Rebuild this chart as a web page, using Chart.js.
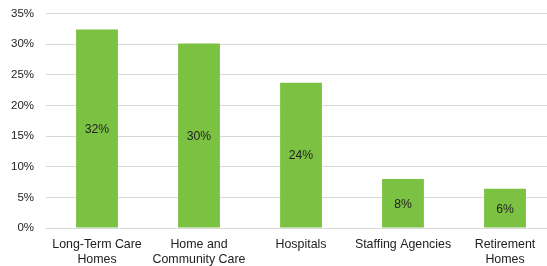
<!DOCTYPE html>
<html>
<head>
<meta charset="utf-8">
<script src="https://cdn.jsdelivr.net/npm/chart.js@4/dist/chart.umd.min.js"></script>
<style>
  html, body { margin: 0; padding: 0; background: #fff; overflow: hidden; }
  #wrap { width: 547px; height: 266px; overflow: hidden; }
</style>
</head>
<body>
<div id="wrap"><canvas id="sectorChart" width="556" height="266"></canvas></div>
<script>
// categories (multi-line labels)
const categories = [
    ["Long-Term Care", "Homes"],
    ["Home and", "Community Care"],
    ["Hospitals"],
    ["Staffing Agencies"],
    ["Retirement", "Homes"]
];
// share of respondents, percent
const shareValues = [32.4, 30.1, 23.7, 8.0, 6.4];
const yTicks = [0, 5, 10, 15, 20, 25, 30, 35];

const textColor = '#222222';
const fontFamily = '"Liberation Sans", Arial, Helvetica, sans-serif';

// value labels in the middle of each bar
const barLabels = {
    id: 'barLabels',
    afterDatasetsDraw(chart) {
        const ctx = chart.ctx;
        const meta = chart.getDatasetMeta(0);
        ctx.save();
        ctx.font = '12.2px ' + fontFamily;
        ctx.fillStyle = textColor;
        ctx.textAlign = 'center';
        ctx.textBaseline = 'middle';
        meta.data.forEach((bar, i) => {
            const v = chart.data.datasets[0].data[i];
            ctx.fillText(Math.round(v) + '%', bar.x, (bar.y + bar.base) / 2 + 1);
        });
        ctx.restore();
    }
};

const ctx = document.getElementById('sectorChart').getContext('2d');
new Chart(ctx, {
    type: 'bar',
    data: {
        labels: categories,
        datasets: [{
            data: shareValues,
            backgroundColor: '#7cc242',
            borderWidth: 0,
            categoryPercentage: 1.0,
            barPercentage: 0.41
        }]
    },
    options: {
        responsive: false,
        animation: false,
        layout: { padding: { top: 13.5, left: 0, right: 0, bottom: 0 } },
        plugins: {
            legend: { display: false },
            tooltip: { enabled: false }
        },
        scales: {
            x: {
                grid: { display: false, drawTicks: false },
                border: { display: false },
                ticks: {
                    color: textColor,
                    padding: 9,
                    maxRotation: 0,
                    autoSkip: false,
                    font: { family: fontFamily, size: 12.4, lineHeight: 1.2 }
                },
                afterFit(scale) {
                    scale.height = 38;
                    scale.paddingLeft = 0;
                    scale.paddingRight = 0;
                }
            },
            y: {
                min: 0,
                max: 35,
                afterBuildTicks(scale) {
                    scale.ticks = yTicks.map(v => ({ value: v }));
                },
                grid: { color: '#d9d9d9', lineWidth: 1, drawTicks: false },
                border: { display: false },
                ticks: {
                    color: textColor,
                    padding: 12,
                    font: { family: fontFamily, size: 11.5 },
                    callback: v => v + '%'
                },
                afterFit(scale) {
                    scale.width = 46;
                    scale.paddingTop = 0;
                    scale.paddingBottom = 0;
                }
            }
        }
    },
    plugins: [barLabels]
});
</script>
</body>
</html>
